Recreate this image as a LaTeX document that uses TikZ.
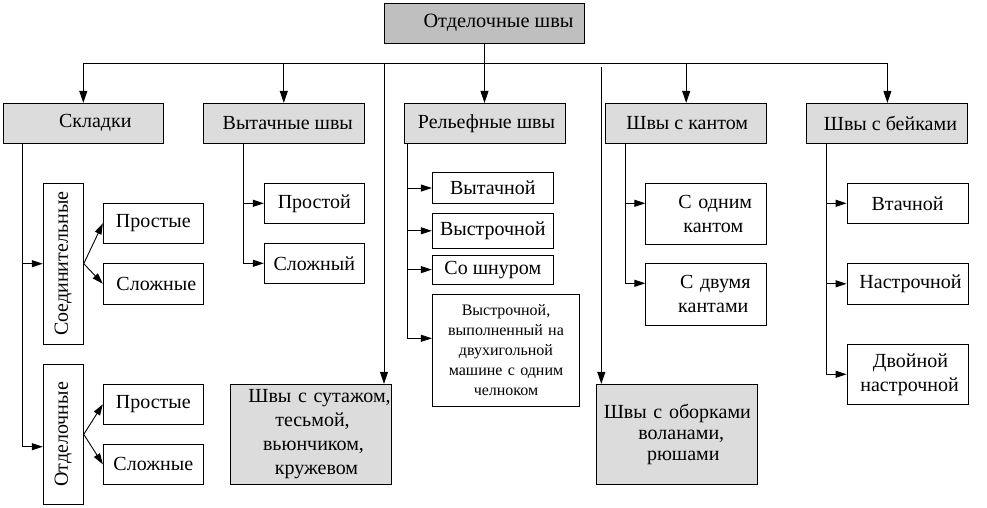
\documentclass[tikz,border=0pt]{standalone}
\usepackage{fontspec}
\setmainfont{Liberation Serif}
\usetikzlibrary{arrows.meta}
\definecolor{topgray}{HTML}{BFBFBF}
\definecolor{lgray}{HTML}{DCDCDC}
\tikzset{
  lf/.style={font=\fontsize{20}{24}\selectfont},
  box/.style={draw, line width=0.9pt, inner sep=1pt, align=center, lf},
  gbox/.style={box, fill=lgray},
  tbox/.style={box, fill=topgray},
  ln/.style={line width=0.9pt},
  arr/.style={line width=0.9pt, -{Triangle[length=12pt,width=8pt]}},
  sarr/.style={line width=0.9pt, -{Triangle[length=11pt,width=7pt]}},
}
\begin{document}
\begin{tikzpicture}[x=1pt,y=-1pt]
\useasboundingbox (0,0) rectangle (987,507);
% top
\node[tbox, minimum width=200, minimum height=40, label={[font=\fontsize{20.3}{24}\selectfont, xshift=14pt]center:Отделочные швы}] (top) at (484.5,23) {};
% level 2
\node[gbox, minimum width=160, minimum height=40, label={[lf, xshift=12pt]center:Складки}] (skl) at (83.3,123.3) {};
\node[gbox, minimum width=161, minimum height=40, label={[lf, xshift=4pt]center:Вытачные швы}] (vyt) at (283.8,123.3) {};
\node[gbox, minimum width=161, minimum height=40, label={[lf, xshift=2pt]center:Рельефные швы}] (rel) at (484.5,123.3) {};
\node[gbox, minimum width=161, minimum height=40, label={[lf, xshift=1pt]center:Швы с кантом}] (kan) at (686.2,123.3) {};
\node[gbox, minimum width=161, minimum height=40, label={[lf, xshift=3pt]center:Швы с бейками}] (bei) at (887.4,123.3) {};
\coordinate (hl) at (0,63.3);
% top connectors
\draw[ln] (top.south) -- (top.south |- hl);
\draw[ln] (skl.north |- hl) -- (bei.north |- hl);
\draw[arr] (skl.north |- hl) -- (skl.north);
\draw[arr] (vyt.north |- hl) -- (vyt.north);
\draw[arr] (top.south |- hl) -- (rel.north);
\draw[arr] (kan.north |- hl) -- (kan.north);
\draw[arr] (bei.north |- hl) -- (bei.north);
% long drops
\node[gbox, minimum width=161, minimum height=100, text width=150pt] (sut) at (310.5,434.3) {\makebox[150pt][c]{\hspace*{18pt}Швы с сутажом,}\\\hspace*{4pt}тесьмой,\\\hspace*{6pt}вьюнчиком,\\\hspace*{12pt}кружевом};
\node[gbox, minimum width=161, minimum height=100, text width=150pt, font=\fontsize{20}{21}\selectfont] (obo) at (677.3,434.3) {Швы с оборками\\\hspace*{8pt}воланами,\\\hspace*{12pt}рюшами};
\coordinate (c1) at (384,63.3);
\coordinate (c2) at (601.3,67);
\draw[arr] (c1) -- (c1 |- sut.north);
\draw[arr] (c2) -- (c2 |- obo.north);
% Складки subtree
\node[box, rotate=90, minimum width=161, minimum height=40] (sed) at (63.3,263.7) {Соединительные};
\node[box, rotate=90, minimum width=140, minimum height=40] (otd) at (63.3,434.3) {Отделочные};
\node[box, minimum width=100, minimum height=40] (pr1) at (153.3,223.3) {Простые};
\node[box, minimum width=100, minimum height=41] (sl1) at (153.3,283.8) {\hspace*{6pt}Сложные};
\node[box, minimum width=100, minimum height=40] (pr2) at (153.3,404.3) {Простые};
\node[box, minimum width=100, minimum height=40] (sl2) at (153.3,464.3) {Сложные};
\coordinate (skd) at ([xshift=20pt]skl.south west);
\draw[sarr] (skd) |- (sed.north);
\draw[sarr] (skd) |- ([yshift=-12.4pt]otd.north);
\draw[sarr] (sed.south) -- (pr1.west);
\draw[sarr] (sed.south) -- (sl1.west);
\draw[sarr] (otd.south) -- (pr2.west);
\draw[sarr] (otd.south) -- (sl2.west);
% Вытачные subtree
\node[box, minimum width=100, minimum height=40] (prs) at (314.3,203.3) {Простой};
\node[box, minimum width=100, minimum height=40] (slj) at (314.3,263.3) {Сложный};
\coordinate (vyd) at ([xshift=41pt]vyt.south west);
\draw[sarr] (vyd) |- (prs.west);
\draw[sarr] (vyd) |- (slj.west);
% Рельефные subtree
\node[box, minimum width=121, minimum height=30.6] (r1) at (492.8,188) {Вытачной};
\node[box, minimum width=121, minimum height=35] (r2) at (492.8,230.8) {Выстрочной};
\node[box, minimum width=121, minimum height=29.3] (r3) at (492.8,269.6) {Со шнуром};
\node[box, minimum width=147.3, minimum height=112, text width=140pt, font=\fontsize{16}{20}\selectfont] (r4) at (506,350.3) {Выстрочной,\\выполненный на\\двухигольной\\машине с одним\\челноком};
\coordinate (red) at ([xshift=4pt]rel.south west);
\draw[sarr] (red) |- (r1.west);
\draw[sarr] (red) |- (r2.west);
\draw[sarr] (red) |- (r3.west);
\draw[sarr] (red) |- ([yshift=12pt]r4.west);
% Швы с кантом subtree
\node[box, minimum width=121, minimum height=60.7, text width=110pt] (k1) at (706.3,213.7) {\hspace*{18pt}С одним\\\hspace*{14pt}кантом};
\node[box, minimum width=121, minimum height=61.7, text width=110pt] (k2) at (706.3,294.2) {\hspace*{18pt}С двумя\\\hspace*{14pt}кантами};
\coordinate (kad) at ([xshift=19.7pt]kan.south west);
\draw[sarr] (kad) |- ([yshift=10.4pt]k1.west);
\draw[sarr] (kad) |- ([yshift=10.9pt]k2.west);
% Швы с бейками subtree
\node[box, minimum width=121, minimum height=40] (b1) at (907.5,203.3) {Втачной};
\node[box, minimum width=121, minimum height=41] (b2) at (907.5,283.8) {\hspace*{6pt}Настрочной};
\node[box, minimum width=121, minimum height=60, text width=110pt] (b3) at (907.5,374.3) {\hspace*{6pt}Двойной\\\hspace*{4pt}настрочной};
\coordinate (bed) at ([xshift=20pt]bei.south west);
\draw[sarr] (bed) |- (b1.west);
\draw[sarr] (bed) |- (b2.west);
\draw[sarr] (bed) |- (b3.west);
\end{tikzpicture}
\end{document}
